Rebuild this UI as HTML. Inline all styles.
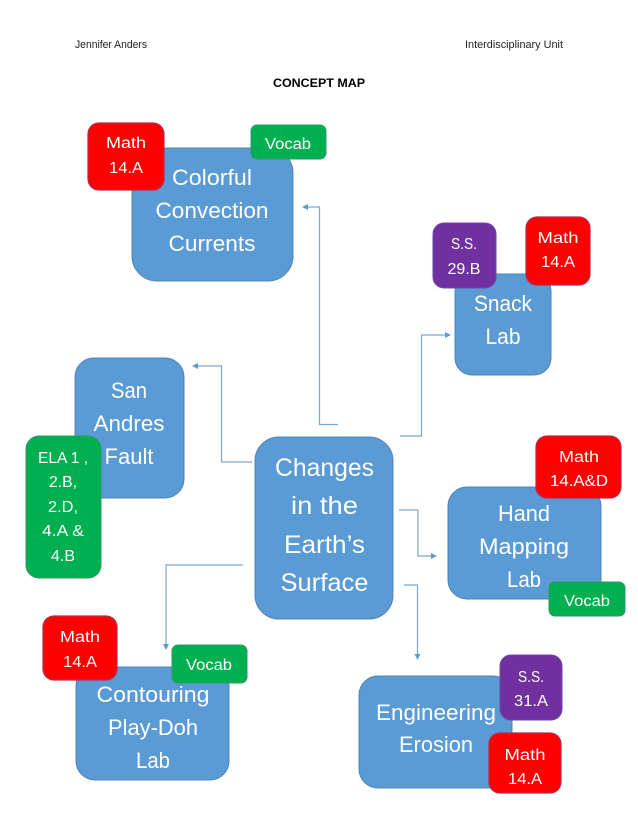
<!DOCTYPE html>
<html><head><meta charset="utf-8"><style>
html,body{margin:0;padding:0;background:#fff}
svg{display:block}
text{font-family:"Liberation Sans",sans-serif;text-anchor:middle;fill:#fff}
.l{font-size:22px}.s{font-size:15.5px}
.b{fill:#5b9bd5;stroke:#4f84b5;stroke-width:1}
.r{fill:#f00;stroke:#b8294e;stroke-width:1.2}
.g{fill:#00b050;stroke:#2f9a6a;stroke-width:1}
.p{fill:#7030a0;stroke:#6a48a8;stroke-width:1}
.c{fill:none;stroke:#7ba7d1;stroke-width:1.2}
.a{fill:#5b9bd5}
</style></head><body>
<svg width="638" height="826" viewBox="0 0 638 826" xmlns="http://www.w3.org/2000/svg">
<rect width="638" height="826" fill="#fff"/>
<text x="111" y="48" font-size="11" style="fill:#222" textLength="72" lengthAdjust="spacingAndGlyphs">Jennifer Anders</text>
<text x="514" y="48" font-size="11" style="fill:#222" textLength="98" lengthAdjust="spacingAndGlyphs">Interdisciplinary Unit</text>
<text x="319" y="87" font-size="12" font-weight="bold" style="fill:#000" textLength="92" lengthAdjust="spacingAndGlyphs">CONCEPT MAP</text>

<path class="c" d="M338 424.500H319.500V207H304"/><path class="a" d="M302 207l6-3v6z"/>
<path class="c" d="M400 436H421.500V335H448"/><path class="a" d="M451 335l-6-3v6z"/>
<path class="c" d="M252 462H221.500V366H195"/><path class="a" d="M192 366l6-3v6z"/>
<path class="c" d="M243 565H166V647"/><path class="a" d="M166 650l-3-6h6z"/>
<path class="c" d="M399 510H418V556H434"/><path class="a" d="M437 556l-6-3v6z"/>
<path class="c" d="M404 585H417.500V657"/><path class="a" d="M417.500 660l-3-6h6z"/>

<rect class="b" x="132" y="148" width="161" height="133" rx="25"/>
<text class="l" x="212" y="185" textLength="80" lengthAdjust="spacingAndGlyphs">Colorful</text>
<text class="l" x="212" y="218" textLength="113" lengthAdjust="spacingAndGlyphs">Convection</text>
<text class="l" x="212" y="251" textLength="87" lengthAdjust="spacingAndGlyphs">Currents</text>
<rect class="r" x="88" y="123" width="76" height="67" rx="11"/>
<text class="s" x="126" y="148" textLength="40" lengthAdjust="spacingAndGlyphs">Math</text>
<text class="s" x="126" y="173" textLength="34" lengthAdjust="spacingAndGlyphs">14.A</text>
<rect class="g" x="251" y="125" width="75" height="34" rx="6"/>
<text class="s" x="288" y="149" textLength="46" lengthAdjust="spacingAndGlyphs">Vocab</text>

<rect class="b" x="455" y="274" width="96" height="101" rx="17"/>
<text class="l" x="503" y="311" textLength="58" lengthAdjust="spacingAndGlyphs">Snack</text>
<text class="l" x="503" y="344" textLength="35" lengthAdjust="spacingAndGlyphs">Lab</text>
<rect class="p" x="433" y="223" width="63" height="65" rx="11"/>
<text class="s" x="464" y="249" textLength="26" lengthAdjust="spacingAndGlyphs">S.S.</text>
<text class="s" x="464" y="274" textLength="33" lengthAdjust="spacingAndGlyphs">29.B</text>
<rect class="r" x="526" y="217" width="64" height="68" rx="11"/>
<text class="s" x="558" y="243" textLength="41" lengthAdjust="spacingAndGlyphs">Math</text>
<text class="s" x="558" y="267" textLength="34" lengthAdjust="spacingAndGlyphs">14.A</text>

<rect class="b" x="75" y="358" width="109" height="140" rx="19"/>
<text class="l" x="129" y="398" textLength="36" lengthAdjust="spacingAndGlyphs">San</text>
<text class="l" x="129" y="431" textLength="71" lengthAdjust="spacingAndGlyphs">Andres</text>
<text class="l" x="129" y="464" textLength="49" lengthAdjust="spacingAndGlyphs">Fault</text>
<rect class="g" x="26" y="436" width="75" height="142" rx="13"/>
<text class="s" x="63" y="463" textLength="50" lengthAdjust="spacingAndGlyphs">ELA 1 ,</text>
<text class="s" x="63" y="487" textLength="28" lengthAdjust="spacingAndGlyphs">2.B,</text>
<text class="s" x="63" y="512" textLength="30" lengthAdjust="spacingAndGlyphs">2.D,</text>
<text class="s" x="63" y="536" textLength="42" lengthAdjust="spacingAndGlyphs">4.A &amp;</text>
<text class="s" x="63" y="561" textLength="24" lengthAdjust="spacingAndGlyphs">4.B</text>

<rect class="b" x="255" y="437" width="138" height="182" rx="24"/>
<text x="324.500" y="476" font-size="25" textLength="99" lengthAdjust="spacingAndGlyphs">Changes</text>
<text x="324.500" y="514" font-size="25" textLength="67" lengthAdjust="spacingAndGlyphs">in the</text>
<text x="324.500" y="553" font-size="25" textLength="81" lengthAdjust="spacingAndGlyphs">Earth’s</text>
<text x="324.500" y="591" font-size="25" textLength="88" lengthAdjust="spacingAndGlyphs">Surface</text>

<rect class="b" x="76" y="667" width="153" height="113" rx="19"/>
<text class="l" x="153" y="702" textLength="113" lengthAdjust="spacingAndGlyphs">Contouring</text>
<text class="l" x="153" y="735" textLength="90" lengthAdjust="spacingAndGlyphs">Play-Doh</text>
<text class="l" x="153" y="768" textLength="34" lengthAdjust="spacingAndGlyphs">Lab</text>
<rect class="r" x="43" y="616" width="74" height="64" rx="11"/>
<text class="s" x="80" y="642" textLength="40" lengthAdjust="spacingAndGlyphs">Math</text>
<text class="s" x="80" y="667" textLength="34" lengthAdjust="spacingAndGlyphs">14.A</text>
<rect class="g" x="172" y="645" width="75" height="38" rx="6"/>
<text class="s" x="209" y="670" textLength="46" lengthAdjust="spacingAndGlyphs">Vocab</text>

<rect class="b" x="448" y="487" width="153" height="112" rx="19"/>
<text class="l" x="524" y="521" textLength="52" lengthAdjust="spacingAndGlyphs">Hand</text>
<text class="l" x="524" y="554" textLength="90" lengthAdjust="spacingAndGlyphs">Mapping</text>
<text class="l" x="524" y="587" textLength="34" lengthAdjust="spacingAndGlyphs">Lab</text>
<rect class="r" x="536" y="436" width="85" height="62" rx="11"/>
<text class="s" x="579" y="462" textLength="40" lengthAdjust="spacingAndGlyphs">Math</text>
<text class="s" x="579" y="486" textLength="58" lengthAdjust="spacingAndGlyphs">14.A&amp;D</text>
<rect class="g" x="549" y="582" width="76" height="34" rx="6"/>
<text class="s" x="587" y="606" textLength="46" lengthAdjust="spacingAndGlyphs">Vocab</text>

<rect class="b" x="359" y="676" width="153" height="112" rx="19"/>
<text class="l" x="436" y="720" textLength="120" lengthAdjust="spacingAndGlyphs">Engineering</text>
<text class="l" x="436" y="752" textLength="74" lengthAdjust="spacingAndGlyphs">Erosion</text>
<rect class="p" x="500" y="655" width="62" height="65" rx="11"/>
<text class="s" x="531" y="682" textLength="26" lengthAdjust="spacingAndGlyphs">S.S.</text>
<text class="s" x="531" y="706" textLength="34" lengthAdjust="spacingAndGlyphs">31.A</text>
<rect class="r" x="489" y="733" width="72" height="60" rx="11"/>
<text class="s" x="525" y="760" textLength="41" lengthAdjust="spacingAndGlyphs">Math</text>
<text class="s" x="525" y="784" textLength="34" lengthAdjust="spacingAndGlyphs">14.A</text>
</svg>
</body></html>
